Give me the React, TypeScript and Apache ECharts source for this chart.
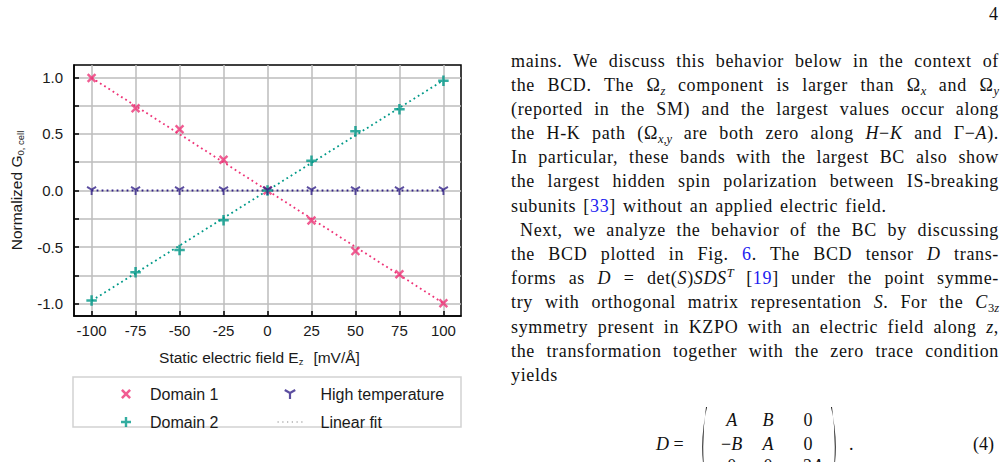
import React, { useEffect, useRef } from "react";
import * as echarts from "echarts";

// ---- data ----
const fieldValues = [-100, -75, -50, -25, 0, 25, 50, 75, 100];
const domain1 = [0.995, 0.727, 0.542, 0.272, 0.0, -0.266, -0.536, -0.741, -0.997];
const domain2 = [-0.973, -0.724, -0.527, -0.263, 0.0, 0.263, 0.524, 0.718, 0.971];
const highTemp = [0, 0, 0, 0, 0, 0, 0, 0, 0];
const fitField = [-100, 100];
const fitDomain1 = [0.997, -0.997];
const fitDomain2 = [-0.975, 0.975];
const fitHighTemp = [0, 0];
const xTickValues = [-100, -75, -50, -25, 0, 25, 50, 75, 100];
const yTickValues = [-1, -0.75, -0.5, -0.25, 0, 0.25, 0.5, 0.75, 1];
const yLabelValues = [-1, -0.5, 0, 0.5, 1];

const PINK = "#ee3377";
const TEAL = "#009988";
const PURPLE = "#332288";
const FONT = "'Liberation Sans', Arial, Helvetica, sans-serif";
const SERIF = "'Liberation Serif', 'Times New Roman', serif";
const TXT = "#1a1a1a";

const xPath =
  "path://M0,1.8L1.8,0L5,3.2L8.2,0L10,1.8L6.8,5L10,8.2L8.2,10L5,6.8L1.8,10L0,8.2L3.2,5Z";
const plusPath = "path://M3.8,0H6.2V3.8H10V6.2H6.2V10H3.8V6.2H0V3.8H3.8Z";
const yPath =
  "path://M4.1,5L5.9,5L5.9,10L4.1,10Z M4.55,4.22L8.88,1.72L9.78,3.28L5.45,5.78Z M1.12,1.72L5.45,4.22L4.55,5.78L0.22,3.28Z";
const dotsPath =
  "path://M0,0h1.2v1.2h-1.2Z M4.5,0h1.2v1.2h-1.2Z M9,0h1.2v1.2h-1.2Z M13.5,0h1.2v1.2h-1.2Z M18,0h1.2v1.2h-1.2Z M22.5,0h1.2v1.2h-1.2Z";

const pairs = (xs: number[], ys: number[]) => xs.map((x, i) => [x, ys[i]]);

const nameRich = {
  s: { fontFamily: FONT, fontSize: 9.5, lineHeight: 12, verticalAlign: "bottom", color: TXT },
  g: { width: 10 },
};

const option: any = {
  animation: false,
  grid: {
    left: 73,
    top: 65,
    width: 388,
    height: 251,
    show: true,
    borderColor: "#000",
    borderWidth: 1.5,
    backgroundColor: "transparent",
  },
  xAxis: {
    type: "value",
    min: -110,
    max: 110,
    name: "Static electric field E{s|z}{g| }[mV/Å]",
    nameLocation: "middle",
    nameGap: 33,
    nameTextStyle: {
      fontFamily: FONT,
      fontSize: 15.5,
      lineHeight: 17,
      color: TXT,
      padding: [0, 16, 0, 0],
      rich: nameRich,
    },
    axisLine: { show: true, onZero: false, lineStyle: { color: "#000", width: 1.5 } },
    axisTick: {
      show: true,
      inside: true,
      length: 5,
      customValues: xTickValues,
      lineStyle: { color: "#000", width: 1.5 },
    },
    axisLabel: { customValues: xTickValues, fontFamily: FONT, fontSize: 15, color: TXT, margin: 7 },
    splitLine: { show: true, lineStyle: { color: "#bdbdbd", width: 1.5 } },
  },
  yAxis: {
    type: "value",
    min: -1.11,
    max: 1.11,
    name: "Normalized G{s|0, cell}",
    nameLocation: "middle",
    nameGap: 49,
    nameTextStyle: { fontFamily: FONT, fontSize: 15.5, lineHeight: 17, color: TXT, rich: nameRich },
    axisLine: { show: true, onZero: false, lineStyle: { color: "#000", width: 1.5 } },
    axisTick: {
      show: true,
      inside: true,
      length: 5,
      customValues: yTickValues,
      lineStyle: { color: "#000", width: 1.5 },
    },
    axisLabel: {
      customValues: yLabelValues,
      fontFamily: FONT,
      fontSize: 15,
      color: TXT,
      margin: 11,
      formatter: (v: number) => v.toFixed(1),
    },
    splitLine: { show: true, lineStyle: { color: "#bdbdbd", width: 1.5 } },
  },
  legend: [
    {
      left: 121,
      top: 386,
      orient: "vertical",
      itemWidth: 12,
      itemHeight: 10,
      itemGap: 12,
      padding: 0,
      selectedMode: false,
      textStyle: { fontFamily: FONT, fontSize: 16, color: TXT, padding: [0, 0, 0, 13] },
      data: [
        { name: "Domain 1", icon: xPath, itemStyle: { color: PINK, borderWidth: 0 } },
        { name: "Domain 2", icon: plusPath, itemStyle: { color: TEAL, borderWidth: 0 } },
      ],
    },
    {
      left: 277.5,
      top: 386,
      orient: "vertical",
      itemWidth: 25,
      itemHeight: 10,
      itemGap: 12,
      padding: 0,
      selectedMode: false,
      textStyle: { fontFamily: FONT, fontSize: 16, color: TXT, padding: [0, 0, 0, 13] },
      data: [
        { name: "High temperature", icon: yPath, itemStyle: { color: PURPLE, borderWidth: 0 } },
        { name: "Linear fit", icon: dotsPath, itemStyle: { color: "#b0b0b0", borderWidth: 0 } },
      ],
    },
  ],
  graphic: [
    {
      type: "rect",
      shape: { x: 73, y: 377, width: 388, height: 50 },
      style: { fill: "none", stroke: "#d2d2d2", lineWidth: 1.5 },
      silent: true,
    },
  ],
  series: [
    {
      name: "Linear fit",
      type: "line",
      data: pairs(fitField, fitDomain1),
      symbol: "none",
      silent: true,
      z: 2,
      itemStyle: { color: PINK },
      lineStyle: { color: PINK, width: 1.8, type: [1.8, 3.2] },
    },
    {
      name: "Linear fit",
      type: "line",
      data: pairs(fitField, fitDomain2),
      symbol: "none",
      silent: true,
      z: 2,
      itemStyle: { color: TEAL },
      lineStyle: { color: TEAL, width: 1.8, type: [1.8, 3.2] },
    },
    {
      name: "Linear fit",
      type: "line",
      data: pairs(fitField, fitHighTemp),
      symbol: "none",
      silent: true,
      z: 3,
      itemStyle: { color: PURPLE },
      lineStyle: { color: PURPLE, width: 1.8, type: [1.8, 3.2] },
    },
    {
      name: "Domain 1",
      type: "scatter",
      data: pairs(fieldValues, domain1),
      symbol: xPath,
      symbolSize: 9.5,
      z: 5,
      itemStyle: { color: PINK },
    },
    {
      name: "Domain 2",
      type: "scatter",
      data: pairs(fieldValues, domain2),
      symbol: plusPath,
      symbolSize: 10.5,
      z: 5,
      itemStyle: { color: TEAL },
    },
    {
      name: "High temperature",
      type: "scatter",
      data: pairs(fieldValues, highTemp),
      symbol: yPath,
      symbolSize: [10, 9],
      z: 6,
      itemStyle: { color: PURPLE },
    },
  ],
};

// ---- page text ----
const LH = 24.2;
const FS = 18;
const BLUE = "#1c1cf0";

const Sub = ({ children }: { children: React.ReactNode }) => (
  <span style={{ fontSize: 12.5, position: "relative", top: 4, letterSpacing: 0 }}>{children}</span>
);
const Sup = ({ children }: { children: React.ReactNode }) => (
  <span style={{ fontSize: 12.5, position: "relative", top: -7, letterSpacing: 0 }}>{children}</span>
);
const I = ({ children }: { children: React.ReactNode }) => <i>{children}</i>;
const L = ({ children }: { children: React.ReactNode }) => <span style={{ color: BLUE }}>{children}</span>;

const Line = ({
  children,
  last,
  indent,
}: {
  children: React.ReactNode;
  last?: boolean;
  indent?: number;
}) => (
  <div
    style={{
      height: LH,
      lineHeight: LH + "px",
      textAlign: last ? "left" : "justify",
      textAlignLast: last ? "left" : "justify",
      paddingLeft: indent || 0,
      letterSpacing: "0.65px",
      wordSpacing: last ? "2px" : undefined,
    } as React.CSSProperties}
  >
    {children}
  </div>
);

const At = ({
  x,
  base,
  center,
  children,
}: {
  x: number;
  base: number;
  center?: boolean;
  children: React.ReactNode;
}) => (
  <span
    style={{
      position: "absolute",
      left: x,
      top: base - 18.2,
      lineHeight: LH + "px",
      whiteSpace: "nowrap",
      transform: center ? "translateX(-50%)" : undefined,
    }}
  >
    {children}
  </span>
);

const Paren = ({ x, top, flip }: { x: number; top: number; flip?: boolean }) => (
  <svg
    width={11}
    height={80}
    style={{ position: "absolute", left: x, top, transform: flip ? "scaleX(-1)" : undefined }}
  >
    <path d="M10,0 Q0.5,40 10,80 L9,80 Q3.4,40 9,0 Z" fill="#111" />
  </svg>
);

export default function App() {
  const ref = useRef<HTMLDivElement>(null);
  useEffect(() => {
    const chart = echarts.init(ref.current as HTMLDivElement, undefined, { renderer: "svg" });
    chart.setOption(option);
    return () => chart.dispose();
  }, []);

  return (
    <div
      style={{
        position: "absolute",
        left: 0,
        top: 0,
        width: 1007,
        height: 462,
        overflow: "hidden",
        background: "#fff",
        fontFamily: SERIF,
        fontSize: FS,
        color: "#111",
      }}
    >
      <div ref={ref} style={{ position: "absolute", left: 0, top: 0, width: 480, height: 462 }} />

      <At x={989} base={20}>4</At>

      <div style={{ position: "absolute", left: 511, top: 66.7 - 18.2, width: 488 }}>
        <Line>mains. We discuss this behavior below in the context of</Line>
        <Line>
          the BCD. The Ω<Sub><I>z</I></Sub> component is larger than Ω<Sub><I>x</I></Sub> and Ω<Sub><I>y</I></Sub>
        </Line>
        <Line>(reported in the SM) and the largest values occur along</Line>
        <Line>
          the H-K path (Ω<Sub><I>x,y</I></Sub> are both zero along <I>H</I>−<I>K</I> and Γ−<I>A</I>).
        </Line>
        <Line>In particular, these bands with the largest BC also show</Line>
        <Line>the largest hidden spin polarization between IS-breaking</Line>
        <Line last>
          subunits [<L>33</L>] without an applied electric field.
        </Line>
        <Line indent={9}>Next, we analyze the behavior of the BC by discussing</Line>
        <Line>
          the BCD plotted in Fig. <L>6</L>. The BCD tensor <I>D</I> trans-
        </Line>
        <Line>
          forms as <I>D</I> = det(<I>S</I>)<I>SDS</I><Sup><I>T</I></Sup> [<L>19</L>] under the point symme-
        </Line>
        <Line>
          try with orthogonal matrix representation <I>S</I>. For the <I>C</I><Sub>3<I>z</I></Sub>
        </Line>
        <Line>
          symmetry present in KZPO with an electric field along <I>z</I>,
        </Line>
        <Line>the transformation together with the zero trace condition</Line>
        <Line last>yields</Line>
      </div>

      <At x={656} base={450.5}>
        <I>D</I> =
      </At>
      <Paren x={697} top={407} />
      <Paren x={830} top={407} flip />
      <At x={731.7} base={425.7} center>
        <I>A</I>
      </At>
      <At x={768} base={425.7} center>
        <I>B</I>
      </At>
      <At x={808} base={425.7} center>
        0
      </At>
      <At x={731.7} base={450.5} center>
        −<I>B</I>
      </At>
      <At x={768} base={450.5} center>
        <I>A</I>
      </At>
      <At x={808} base={450.5} center>
        0
      </At>
      <At x={731.7} base={472} center>
        0
      </At>
      <At x={768} base={472} center>
        0
      </At>
      <At x={808} base={472} center>
        −2<I>A</I>
      </At>
      <At x={849} base={450.5}>.</At>
      <At x={973} base={450.5}>(4)</At>
    </div>
  );
}
